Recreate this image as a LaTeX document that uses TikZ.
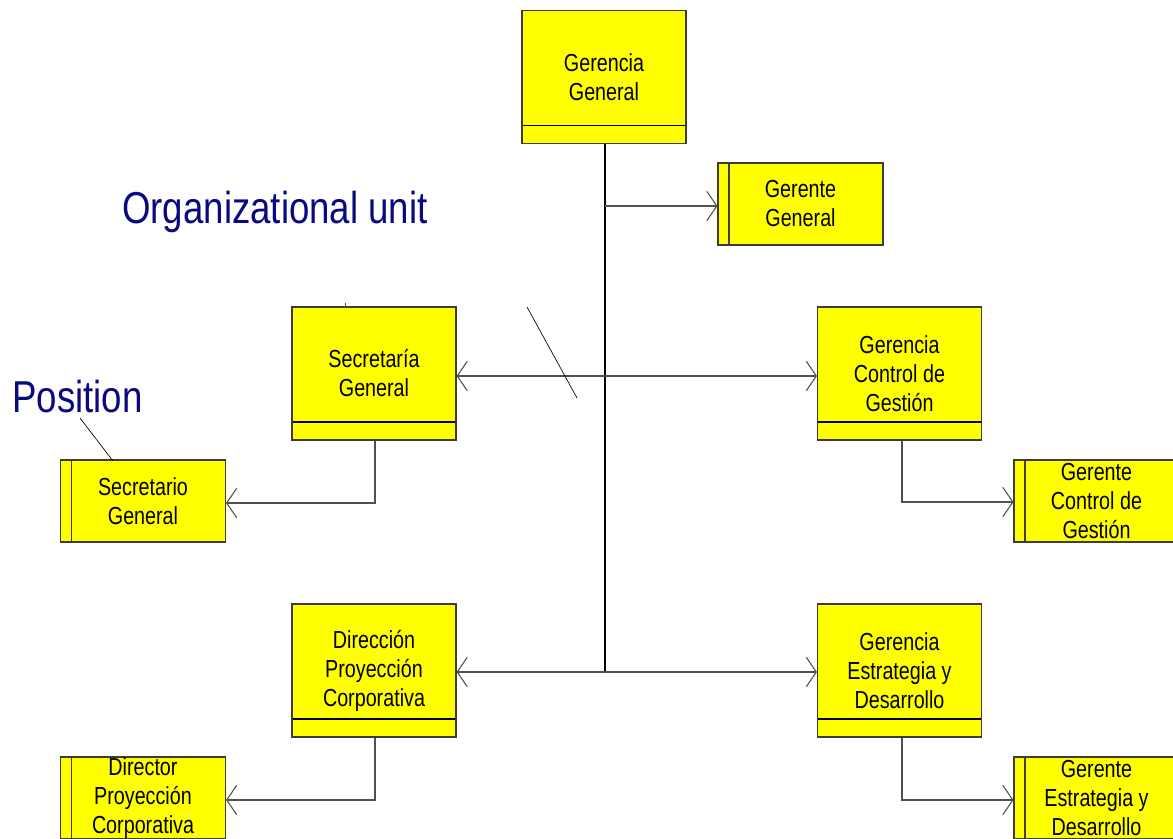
\documentclass[tikz,border=0pt]{standalone}
\usepackage{fontspec}
\setmainfont{Liberation Sans}
\newfontfamily\boxfont[FakeStretch=0.8]{Liberation Sans}
\newfontfamily\labelfont[FakeStretch=0.82]{Liberation Sans}
\usetikzlibrary{arrows.meta}
\definecolor{unitfill}{RGB}{255,255,0}
\definecolor{labelblue}{RGB}{10,10,128}
\definecolor{edge}{RGB}{60,60,60}
\definecolor{linkgray}{RGB}{80,80,80}
\tikzset{
  unitbox/.style={draw=edge, fill=unitfill, line width=0.8pt,
    minimum width=123pt, minimum height=99.75pt, inner sep=0pt,
    align=center, font=\boxfont\fontsize{18.5}{21.75}\selectfont,
    path picture={\draw[black, line width=0.8pt]
      ([yshift=13.5pt]path picture bounding box.south west) --
      ([yshift=13.5pt]path picture bounding box.south east);}},
  posbox/.style={draw=edge, fill=unitfill, line width=0.8pt,
    minimum width=123.75pt, minimum height=61.5pt, inner sep=0pt,
    align=center, font=\boxfont\fontsize{18.5}{21.75}\selectfont,
    path picture={\draw[black!70!olive, line width=0.8pt]
      ([xshift=8.25pt]path picture bounding box.south west) --
      ([xshift=8.25pt]path picture bounding box.north west);}},
  biglabel/.style={text=labelblue, inner sep=0pt, anchor=base west,
    font=\labelfont\fontsize{33.5}{40}\selectfont},
  link/.style={draw=linkgray, line width=1.1pt},
  tip/.style={-{Straight Barb[length=7.5pt,width=22pt,line width=0.8pt]}},
  twotip/.style={{Straight Barb[length=7.5pt,width=22pt,line width=0.8pt]}-{Straight Barb[length=7.5pt,width=22pt,line width=0.8pt]}},
}
\begin{document}
\begin{tikzpicture}[x=0.75pt,y=-0.75pt]
\useasboundingbox (0,0) rectangle (1173,838);
\clip (0,0) rectangle (1173,838);

% organisational units
\node[unitbox] (gg)  at (604,77)    {Gerencia\\General};
\node[unitbox] (sg)  at (374,373.5) {Secretaría\\General};
\node[unitbox] (gcg) at (899.5,373.5) {Gerencia\\Control de\\Gestión};
\node[unitbox] (dpc) at (374,670.5) {Dirección\\Proyección\\Corporativa};
\node[unitbox] (ged) at (899.5,670.5) {Gerencia\\Estrategia y\\Desarrollo};

% positions
\node[posbox] (ggp)  at (800.5,204) {Gerente\\General};
\node[posbox] (sgp)  at (143,501)   {Secretario\\General};
\node[posbox] (gcgp) at (1096.5,501) {Gerente\\Control de\\Gestión};
\node[posbox] (dpcp) at (143,798)   {Director\\Proyección\\Corporativa};
\node[posbox] (gedp) at (1096.5,798) {Gerente\\Estrategia y\\Desarrollo};

% annotations
\node[biglabel] (orglabel) at (122,223) {Organizational unit};
\node[biglabel] (poslabel) at (12,412)  {Position};

% trunk from the top unit
\coordinate (j1) at (605,206);
\coordinate (j2) at (605,376);
\coordinate (j3) at (605,672);
\draw[black, line width=1.5pt] (gg.south -| j1) -- (j3);
\draw[link, tip] (j1) -- (j1 -| ggp.west);
\draw[link, twotip] (j2 -| sg.east) -- (j2 -| gcg.west);
\draw[link, twotip] (j3 -| dpc.east) -- (j3 -| ged.west);

% units to their positions
\draw[link, tip] ([xshift=0.75pt]sg.south) |- ([yshift=-1.5pt]sgp.east);
\draw[link, tip] ([xshift=1.9pt]gcg.south) |- ([yshift=-0.75pt]gcgp.west);
\draw[link, tip] ([xshift=0.75pt]dpc.south) |- ([yshift=-1.5pt]dpcp.east);
\draw[link, tip] ([xshift=1.9pt]ged.south) |- ([yshift=-1.5pt]gedp.west);

% pointer lines
\draw[black, line width=0.5pt] (527,307) -- (577,398);
\draw[black, line width=0.5pt] (80,418) -- (113,461);
\draw[linkgray, line width=0.5pt] (345,303) -- (345,307);
\end{tikzpicture}
\end{document}
